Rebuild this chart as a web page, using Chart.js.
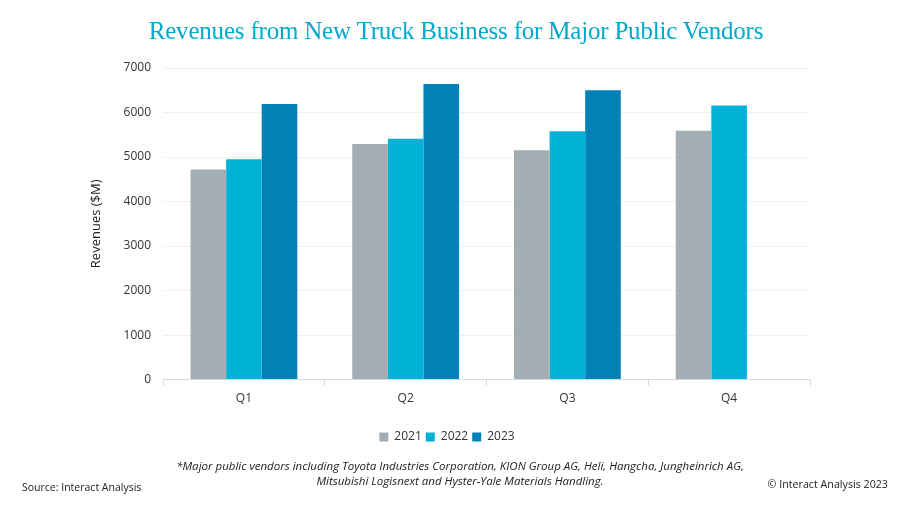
<!DOCTYPE html>
<html>
<head>
<meta charset="utf-8">
<script src="https://cdn.jsdelivr.net/npm/chart.js@4.4.0/dist/chart.umd.min.js"></script>
<style>
  body { margin: 0; background: #fff; }
  #wrap { position: relative; width: 900px; height: 506px; overflow: hidden; }
  #chart { position: absolute; left: 0; top: 0; }
  .title { position: absolute; top: 17px; left: 6px; width: 900px; text-align: center;
    font-family: "Liberation Serif", serif; font-size: 25px; letter-spacing: -0.2px; color: #00a9ce; }
  .note { position: absolute; top: 458px; left: 0; width: 920px; text-align: center;
    font-family: "Open Sans", sans-serif; font-style: italic; font-size: 11.5px; line-height: 15px; color: #222; }
  .src { position: absolute; top: 480px; left: 22px; font-family: "Open Sans", sans-serif; font-size: 10.5px; color: #222; }
  .copy { position: absolute; top: 477px; right: 12px; font-family: "Open Sans", sans-serif; font-size: 10.7px; color: #222; }
</style>
</head>
<body>
<div id="wrap">
  <canvas id="chart" width="900" height="506"></canvas>
  <div class="title">Revenues from New Truck Business for Major Public Vendors</div>
  <div class="note">*Major public vendors including Toyota Industries Corporation, KION Group AG, Heli, Hangcha, Jungheinrich AG,<br>Mitsubishi Logisnext and Hyster-Yale Materials Handling.</div>
  <div class="src">Source: Interact Analysis</div>
  <div class="copy">© Interact Analysis 2023</div>
</div>
<script>
  // Datos
  const quarters = ["Q1", "Q2", "Q3", "Q4"];
  const rev2021 = [4720, 5290, 5150, 5590];
  const rev2022 = [4950, 5410, 5580, 6160];
  const rev2023 = [6190, 6640, 6500, null];
  const yTicks = [0, 1000, 2000, 3000, 4000, 5000, 6000, 7000];

  const ctx = document.getElementById("chart").getContext("2d");
  new Chart(ctx, {
    type: "bar",
    data: {
      labels: quarters,
      datasets: [
        { label: "2021", data: rev2021, backgroundColor: "#a2aeb4" },
        { label: "2022", data: rev2022, backgroundColor: "#00b2d6" },
        { label: "2023", data: rev2023, backgroundColor: "#0082b6" },
      ],
    },
    options: {
      responsive: false,
      animation: false,
      datasets: { bar: { categoryPercentage: 0.66, barPercentage: 1 } },
      layout: { padding: { top: 68, left: 84, right: 90, bottom: 53 } },
      plugins: {
        legend: {
          position: "bottom",
          labels: {
            boxWidth: 9, boxHeight: 9, padding: 4,
            color: "#333", font: { family: "Open Sans", size: 12 },
          },
        },
        tooltip: { enabled: false },
      },
      scales: {
        x: {
          grid: { drawOnChartArea: false, drawTicks: true, tickLength: 6, color: "#d9d9d9" },
          border: { color: "#d9d9d9" },
          ticks: { color: "#333", padding: 6, font: { family: "Open Sans", size: 12 } },
          afterFit: function (scale) { scale.height += 15; },
        },
        y: {
          min: 0, max: 7000,
          afterBuildTicks: function (scale) { scale.ticks = yTicks.map(v => ({ value: v })); },
          grid: { color: "#f0f0f0", drawTicks: false },
          border: { display: false },
          ticks: { color: "#333", padding: 12, font: { family: "Open Sans", size: 12 },
            callback: function (v) { return String(v); } },
          title: { display: true, text: "Revenues ($M)", color: "#222", padding: { top: 4, bottom: 8 },
            font: { family: "Open Sans", size: 13 } },
        },
      },
    },
  });
</script>
</body>
</html>
